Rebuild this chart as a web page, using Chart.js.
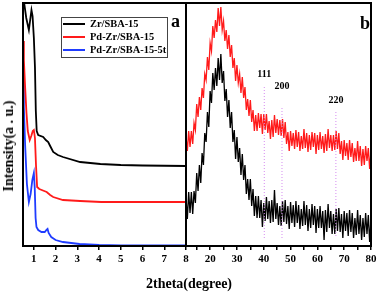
<!DOCTYPE html>
<html>
<head>
<meta charset="utf-8">
<script src="https://cdn.jsdelivr.net/npm/chart.js@4"></script>
<style>
  body { margin: 0; background: #fff; }
  #wrap { position: relative; width: 380px; height: 295px; }
  canvas { position: absolute; left: 0; top: 0; }
  .ttl { position: absolute; font: bold 14px "Liberation Serif", serif; color: #000; white-space: nowrap; }
  #xt { left: 189px; top: 276px; transform: translateX(-50%); }
  #yt { left: 9px; top: 146px; transform: translate(-50%, -50%) rotate(-90deg); }
</style>
</head>
<body>
<div id="wrap">
  <canvas id="saxs" width="380" height="295"></canvas>
  <canvas id="xrd" width="380" height="295"></canvas>
  <div class="ttl" id="xt">2theta(degree)</div>
  <div class="ttl" id="yt">Intensity(a . u.)</div>
</div>
<script>
// panel a - low angle
const saxsLabels = ['Zr/SBA-15', 'Pd-Zr/SBA-15', 'Pd-Zr/SBA-15-5t'];
const saxsTicks = [1, 2, 3, 4, 5, 6, 7, 8];

const zrX = [0.5, 0.54, 0.65, 0.77, 0.83, 0.89, 0.94, 1.0, 1.05, 1.09, 1.13, 1.2, 1.43, 1.55, 1.66, 1.75, 1.89, 2.1, 2.34, 3.13, 4.06, 5, 6, 8];
const zrY = [255, 245, 228, 216, 226, 236, 230, 208, 179, 135, 115, 111, 109, 106, 104, 100, 94, 91, 89, 84, 82, 81, 80.5, 80];

const pdX = [0.5, 0.54, 0.6, 0.66, 0.72, 0.81, 0.88, 0.95, 1.0, 1.05, 1.1, 1.15, 1.25, 1.36, 1.59, 1.75, 1.89, 2.34, 3.13, 4.1, 8];
const pdY = [205, 186, 158, 133, 115, 106, 110, 115, 116, 108, 80, 59, 57, 56, 54, 51, 49, 46, 45, 44, 44];

const pd5tX = [0.5, 0.54, 0.6, 0.68, 0.77, 0.85, 0.93, 1.0, 1.04, 1.08, 1.12, 1.2, 1.35, 1.5, 1.58, 1.63, 1.68, 1.8, 2.0, 2.34, 3.1, 4, 5, 8];
const pd5tY = [170, 139, 100, 62, 44, 52, 66, 73, 58, 28, 19, 16, 14, 14, 16, 17, 13, 9, 6, 4, 2, 1, 0.5, 0.5];

// panel b - wide angle, sampled every 0.5 deg from 11 to 80
const xrdStart = 11;
const xrdStep = 0.5;
const xrdTicks = [15, 20, 25, 30, 35, 40, 45, 50, 55, 60, 65, 70, 75, 80];
const xrdRed = [
  110, 95, 115, 99, 115, 102, 123, 116, 142, 129,
  149, 136, 158, 148, 172, 166, 189, 176, 203, 195,
  220, 208, 226, 214, 238, 220, 239, 216, 225, 205,
  216, 197, 211, 189, 201, 178, 188, 165, 181, 163,
  172, 153, 169, 148, 159, 136, 147, 130, 146, 124,
  136, 115, 131, 115, 133, 118, 132, 112, 132, 116,
  132, 113, 125, 107, 126, 109, 131, 113, 127, 111,
  126, 110, 127, 108, 124, 102, 114, 95, 115, 100,
  113, 97, 116, 99, 114, 95, 110, 97, 117, 98,
  113, 94, 111, 96, 114, 99, 113, 92, 111, 96,
  114, 97, 110, 93, 112, 95, 117, 98, 111, 95,
  111, 96, 115, 97, 113, 92, 105, 86, 106, 90,
  103, 86, 106, 89, 103, 84, 98, 85, 105, 85,
  100, 80, 97, 81, 100, 85, 98, 77, 96
];
const xrdBlack = [
  49, 27, 54, 33, 54, 32, 55, 43, 73, 55,
  81, 63, 93, 81, 113, 104, 134, 119, 155, 143,
  173, 156, 178, 160, 188, 166, 192, 163, 175, 145,
  157, 129, 146, 118, 134, 104, 116, 87, 109, 84,
  98, 71, 92, 66, 81, 52, 67, 46, 67, 40,
  57, 30, 50, 28, 50, 28, 46, 19, 43, 25,
  49, 27, 45, 23, 46, 24, 56, 27, 43, 21,
  40, 20, 45, 24, 46, 22, 40, 17, 44, 23,
  41, 19, 45, 23, 41, 17, 37, 20, 45, 21,
  41, 15, 37, 18, 42, 21, 40, 13, 37, 18,
  40, 18, 35, 6, 36, 14, 42, 18, 35, 12,
  32, 12, 37, 15, 38, 14, 32, 8, 35, 15,
  33, 10, 36, 14, 33, 8, 28, 11, 36, 12,
  31, 6, 28, 9, 33, 12, 31, 4, 28
];

const peakLabels = ['111', '200', '220'];
const peakAngles = [40.2, 46.8, 66.9];
const peakTops = [159, 138, 134];
const peakLabelY = [172, 160, 146];

const serif = '"Liberation Serif", "Times New Roman", serif';
const tickFont = { family: serif, size: 11, weight: 'bold' };

function pts(xs, ys) {
  return xs.map((x, i) => ({ x: x, y: ys[i] }));
}

const framePlugin = {
  id: 'frame',
  afterDraw(chart) {
    const { ctx, chartArea: a } = chart;
    ctx.save();
    ctx.strokeStyle = '#000';
    ctx.lineWidth = 2;
    ctx.strokeRect(a.left, a.top, a.right - a.left, a.bottom - a.top);
    ctx.restore();
  }
};

const saxsNotes = {
  id: 'saxsNotes',
  afterDraw(chart) {
    const ctx = chart.ctx;
    ctx.save();
    ctx.strokeStyle = '#444';
    ctx.lineWidth = 1;
    ctx.strokeRect(61.5, 17.5, 106, 40);
    ctx.font = 'bold 10.4px ' + serif;
    ctx.textBaseline = 'middle';
    chart.data.datasets.forEach((ds, i) => {
      const y = 24 + i * 13;
      ctx.strokeStyle = ds.borderColor;
      ctx.lineWidth = 2;
      ctx.beginPath();
      ctx.moveTo(63, y);
      ctx.lineTo(85, y);
      ctx.stroke();
      ctx.fillStyle = '#000';
      ctx.fillText(ds.label, 90, y);
    });
    ctx.font = 'bold 18px ' + serif;
    ctx.fillText('a', 171, 22);
    ctx.restore();
  }
};

const xrdNotes = {
  id: 'xrdNotes',
  afterDraw(chart) {
    const ctx = chart.ctx;
    const sx = chart.scales.x, sy = chart.scales.y;
    ctx.save();
    ctx.fillStyle = '#000';
    ctx.font = 'bold 10px ' + serif;
    ctx.textAlign = 'center';
    ctx.textBaseline = 'middle';
    peakLabels.forEach((t, i) => {
      ctx.fillText(t, sx.getPixelForValue(peakAngles[i]), sy.getPixelForValue(peakLabelY[i]));
    });
    ctx.font = 'bold 18px ' + serif;
    ctx.fillText('b', 365, 24);
    ctx.restore();
  }
};

function xAxis(min, max, ticks, label) {
  return {
    type: 'linear', min: min, max: max,
    afterBuildTicks: s => { s.ticks = ticks.map(v => ({ value: v })); },
    afterFit: s => { s.height = 49; },
    grid: { display: true, drawOnChartArea: false, drawTicks: true, tickLength: 4, color: '#000', lineWidth: 1.5 },
    border: { display: false },
    ticks: { font: tickFont, color: '#000', padding: 3, maxRotation: 0, autoSkip: false, callback: label }
  };
}

const yAxis = { display: false, min: 0, max: 243 };

new Chart(document.getElementById('saxs'), {
  type: 'line',
  data: {
    datasets: [
      { label: saxsLabels[0], data: pts(zrX, zrY), borderColor: '#000000', borderWidth: 1.8 },
      { label: saxsLabels[1], data: pts(pdX, pdY), borderColor: '#ff1a1a', borderWidth: 1.8 },
      { label: saxsLabels[2], data: pts(pd5tX, pd5tY), borderColor: '#1f3cff', borderWidth: 1.8 }
    ]
  },
  options: {
    responsive: false,
    animation: false,
    devicePixelRatio: 1,
    layout: { padding: { left: 23, right: 194, top: 3, bottom: 0 } },
    elements: { point: { radius: 0 }, line: { tension: 0 } },
    plugins: { legend: { display: false }, tooltip: { enabled: false } },
    scales: { x: xAxis(0.5, 8, saxsTicks, v => v), y: yAxis }
  },
  plugins: [framePlugin, saxsNotes]
});

const xrdData = vals => vals.map((v, i) => ({ x: xrdStart + i * xrdStep, y: v }));
const peakSets = peakAngles.map((a, i) => ({
  label: peakLabels[i],
  data: [{ x: a, y: peakTops[i] }, { x: a, y: 8 }],
  borderColor: '#d58cf0', borderWidth: 1, borderDash: [1, 2], order: 0
}));

new Chart(document.getElementById('xrd'), {
  type: 'line',
  data: {
    datasets: [
      { label: 'Zr/SBA-15', data: xrdData(xrdBlack), borderColor: '#000000', borderWidth: 1.3, order: 1 },
      { label: 'Pd-Zr/SBA-15', data: xrdData(xrdRed), borderColor: '#ff1a1a', borderWidth: 1.3, order: 1 }
    ].concat(peakSets)
  },
  options: {
    responsive: false,
    animation: false,
    devicePixelRatio: 1,
    layout: { padding: { left: 186, right: 9, top: 3, bottom: 0 } },
    elements: { point: { radius: 0 }, line: { tension: 0 } },
    plugins: { legend: { display: false }, tooltip: { enabled: false } },
    scales: { x: xAxis(11, 80, xrdTicks, v => (v % 10 === 0 ? v : '')), y: yAxis }
  },
  plugins: [framePlugin, xrdNotes]
});
</script>
</body>
</html>
